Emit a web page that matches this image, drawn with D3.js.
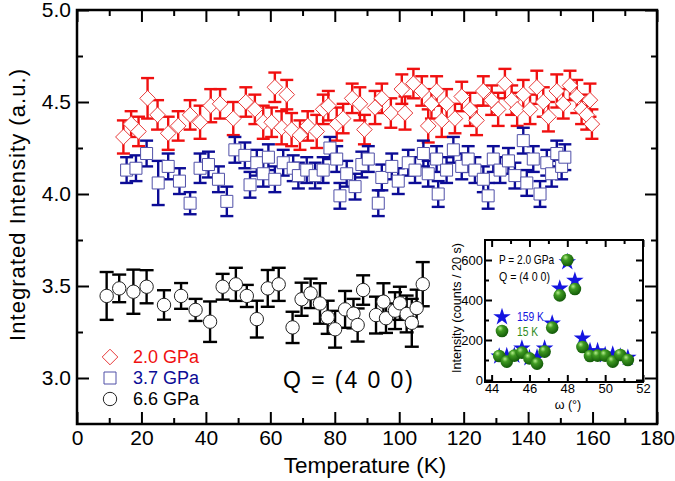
<!DOCTYPE html>
<html>
<head>
<meta charset="utf-8">
<script src="https://cdn.jsdelivr.net/npm/d3@7"></script>
<style>
  body { margin: 0; background: #fff; }
  svg { display: block; font-family: "Liberation Sans", Arial, sans-serif; }
</style>
</head>
<body>
<div class="canvas-container"></div>
<script>
// 2.0 GPa (red diamonds)
const redT = [14.4, 16.8, 19.1, 21.9, 25.0, 28.3, 31.4, 35.1, 38.2, 41.5, 44.4, 48.5, 52.4, 55.2, 57.8,
  60.4, 61.4, 63.5, 65.1, 66.6, 69.2, 71.6, 74.4, 76.4, 78.0, 80.6, 82.6, 85.4, 87.8, 89.2,
  92.5, 94.6, 97.4, 100.8, 101.8, 104.4, 107.0, 109.0, 110.0, 111.6, 113.2, 114.7, 117.3, 119.4,
  122.0, 124.0, 126.1, 128.7, 130.7, 132.8, 134.9, 136.6, 138.5, 140.6, 142.7, 144.7, 146.3,
  148.9, 150.9, 153.0, 155.1, 156.6, 158.2, 159.2, 159.8]
const redI = [4.31, 4.38, 4.34, 4.52, 4.43, 4.33, 4.37, 4.43, 4.39, 4.48, 4.49, 4.41, 4.50, 4.46, 4.39,
  4.39, 4.58, 4.36, 4.54, 4.35, 4.32, 4.37, 4.34, 4.46, 4.48, 4.38, 4.41, 4.52, 4.49, 4.35,
  4.47, 4.52, 4.44, 4.57, 4.44, 4.60, 4.56, 4.37, 4.49, 4.56, 4.40, 4.49, 4.41, 4.53,
  4.46, 4.40, 4.56, 4.51, 4.46, 4.60, 4.51, 4.46, 4.54, 4.46, 4.58, 4.50, 4.42,
  4.56, 4.49, 4.59, 4.53, 4.46, 4.43, 4.51, 4.38]
const redErr = [0.09, 0.07, 0.08, 0.11, 0.08, 0.09, 0.08, 0.08, 0.09, 0.09, 0.08, 0.09, 0.08, 0.08, 0.09,
  0.08, 0.08, 0.09, 0.08, 0.09, 0.08, 0.08, 0.09, 0.08, 0.08, 0.09, 0.08, 0.08, 0.09, 0.08,
  0.09, 0.08, 0.08, 0.08, 0.09, 0.08, 0.08, 0.09, 0.08, 0.08, 0.09, 0.08, 0.08, 0.08,
  0.09, 0.08, 0.08, 0.08, 0.09, 0.08, 0.08, 0.09, 0.08, 0.08, 0.09, 0.08, 0.08,
  0.09, 0.08, 0.08, 0.09, 0.08, 0.08, 0.09, 0.08]

// 3.7 GPa (blue squares)
const blueT = [15.4, 18.3, 21.6, 25.2, 28.3, 31.8, 35.1, 38.2, 40.8, 43.9, 46.5, 49.0, 52.1, 53.7, 55.8,
  57.8, 59.4, 61.4, 64.0, 67.1, 68.7, 71.3, 73.9, 76.4, 78.5, 80.6, 81.6, 83.7, 86.3, 88.4,
  90.4, 93.5, 94.6, 97.7, 99.7, 102.8, 104.9, 107.5, 109.0, 111.6, 112.1, 114.7, 116.8, 119.4,
  121.4, 123.5, 126.1, 127.6, 129.2, 131.3, 133.9, 135.9, 138.5, 139.6, 141.6, 143.7, 145.8,
  147.3, 148.9, 150.4, 151.4]
const blueI = [4.13, 4.14, 4.22, 4.06, 4.15, 4.07, 3.95, 4.14, 4.16, 4.08, 3.96, 4.24, 4.21, 4.05, 4.17,
  4.11, 4.20, 4.08, 4.17, 4.14, 4.10, 4.13, 4.10, 4.13, 4.25, 4.19, 3.99, 4.11, 4.04, 4.16,
  4.19, 3.95, 4.09, 4.15, 4.07, 4.17, 4.13, 4.22, 4.11, 4.19, 4.00, 4.13, 4.24, 4.15,
  4.19, 4.13, 4.08, 3.99, 4.19, 4.13, 4.18, 4.10, 4.29, 4.06, 4.19, 4.00, 4.17,
  4.11, 4.22, 4.15, 4.20]
const blueErr = [0.07, 0.07, 0.07, 0.12, 0.07, 0.07, 0.06, 0.08, 0.07, 0.07, 0.08, 0.07, 0.07, 0.07, 0.07,
  0.07, 0.07, 0.07, 0.07, 0.07, 0.07, 0.07, 0.07, 0.07, 0.06, 0.07, 0.07, 0.07, 0.07, 0.07,
  0.07, 0.07, 0.07, 0.07, 0.07, 0.07, 0.07, 0.07, 0.07, 0.07, 0.07, 0.07, 0.07, 0.07,
  0.07, 0.07, 0.07, 0.07, 0.07, 0.07, 0.07, 0.07, 0.07, 0.07, 0.07, 0.07, 0.07,
  0.07, 0.07, 0.07, 0.07]

// 6.6 GPa (black circles)
const blackT = [9.2, 13.1, 17.5, 21.6, 27.0, 32.3, 36.8, 41.3, 45.2, 49.3, 52.7, 55.8, 59.2, 62.6, 66.9,
  69.7, 72.5, 75.4, 77.8, 80.1, 83.2, 85.8, 87.1, 88.8, 92.8, 95.1, 95.9, 98.7, 100.2, 102.3,
  103.9, 105.4, 107.3]
const blackI = [3.446, 3.487, 3.469, 3.496, 3.397, 3.446, 3.37, 3.306, 3.496, 3.509, 3.446, 3.32, 3.487, 3.509, 3.275,
  3.428, 3.46, 3.405, 3.33, 3.265, 3.373, 3.35, 3.288, 3.478, 3.342, 3.415, 3.325, 3.366, 3.406, 3.348,
  3.30, 3.38, 3.51]
const blackErr = [0.13, 0.075, 0.12, 0.09, 0.08, 0.07, 0.06, 0.11, 0.07, 0.09, 0.06, 0.1, 0.1, 0.09, 0.085,
  0.09, 0.08, 0.11, 0.09, 0.1, 0.1, 0.08, 0.09, 0.08, 0.1, 0.1, 0.08, 0.1, 0.09, 0.1,
  0.13, 0.1, 0.12]

const legendLabels = ["2.0 GPa", "3.7 GPa", "6.6 GPa"]

// inset: omega scans at 2.0 GPa
const omega = [44.4, 44.8, 45.2, 45.6, 46.0, 46.4, 46.8, 47.2, 47.6, 48.0, 48.4, 48.8, 49.2, 49.6, 50.0, 50.4, 50.8, 51.2]
const int15K = [120, 92, 122, 137, 108, 82, 142, 262, 423, 600, 455, 165, 120, 122, 122, 92, 125, 100]
const int159K = [118, 120, 122, 158, 110, 113, 158, 283, 458, 590, 497, 208, 145, 145, 125, 128, 118, 112]

const xTicks = [0, 20, 40, 60, 80, 100, 120, 140, 160, 180]
const yTicks = [3.0, 3.5, 4.0, 4.5, 5.0]
const ixTicks = [44, 46, 48, 50, 52]
const iyTicks = [0, 200, 400, 600]

const w = 675
const h = 481

const svg = d3.select(".canvas-container")
  .append("svg")
  .attr("width", w)
  .attr("height", h)

svg.append("rect").attr("width", w).attr("height", h).attr("fill", "#fff")

const x = d3.scaleLinear().domain([0, 180]).range([77, 657])
const y = d3.scaleLinear().domain([2.75, 5.0]).range([424, 10])

// draws inward ticks on all four sides of a box
const frameAxes = (g, xs, ys, majX, minX, majY, minY, big, small, fs, pad, fmtX, fmtY) => {
  const [x0, x1] = xs.range()
  const [y0, y1] = ys.range()
  const mk = (gen, tr, vals, size, labels, fmt) => {
    const a = g.append("g").attr("transform", tr)
      .call(gen.tickValues(vals).tickSize(size).tickPadding(pad)
        .tickFormat(labels ? fmt : () => ""))
    a.select(".domain").remove()
    a.selectAll("line").attr("stroke", "#000").attr("stroke-width", 2)
    a.selectAll("text").attr("font-size", fs).attr("fill", "#000").attr("font-family", null)
  }
  mk(d3.axisBottom(xs), `translate(0,${y0})`, majX, -big, true, fmtX)
  mk(d3.axisBottom(xs), `translate(0,${y0})`, minX, -small, false)
  mk(d3.axisTop(xs), `translate(0,${y1})`, majX, -big, false)
  mk(d3.axisTop(xs), `translate(0,${y1})`, minX, -small, false)
  mk(d3.axisLeft(ys), `translate(${x0},0)`, majY, -big, true, fmtY)
  mk(d3.axisLeft(ys), `translate(${x0},0)`, minY, -small, false)
  mk(d3.axisRight(ys), `translate(${x1},0)`, majY, -big, false)
  mk(d3.axisRight(ys), `translate(${x1},0)`, minY, -small, false)
}

frameAxes(svg, x, y, xTicks, d3.range(10, 180, 20), yTicks, [3.25, 3.75, 4.25, 4.75],
  12, 6, 21, 6, d3.format("d"), d3.format(".1f"))

svg.append("rect")
  .attr("x", 77).attr("y", 10).attr("width", 580).attr("height", 414)
  .attr("fill", "none").attr("stroke", "#000").attr("stroke-width", 2.5)

// error bar series
const drawSeries = (T, I, E, barColor, capW, marker) => {
  const g = svg.append("g")
  const pts = T.map((t, k) => ({ t, v: I[k], e: E[k] }))
  const bars = g.selectAll(".eb").data(pts).enter().append("g")
    .attr("stroke", barColor).attr("stroke-width", 2.4)
  bars.append("line")
    .attr("x1", (d) => x(d.t)).attr("x2", (d) => x(d.t))
    .attr("y1", (d) => y(d.v - d.e)).attr("y2", (d) => y(d.v + d.e))
  bars.append("line")
    .attr("x1", (d) => x(d.t) - capW / 2).attr("x2", (d) => x(d.t) + capW / 2)
    .attr("y1", (d) => y(d.v + d.e)).attr("y2", (d) => y(d.v + d.e))
  bars.append("line")
    .attr("x1", (d) => x(d.t) - capW / 2).attr("x2", (d) => x(d.t) + capW / 2)
    .attr("y1", (d) => y(d.v - d.e)).attr("y2", (d) => y(d.v - d.e))
  g.selectAll(".mk").data(pts).enter().append("path")
    .attr("transform", (d) => `translate(${x(d.t)},${y(d.v)})`)
    .attr("d", marker.path)
    .attr("fill", "#fff")
    .attr("stroke", marker.color)
    .attr("stroke-width", 1)
}

const diamondPath = "M0,-7.8L7.8,0L0,7.8L-7.8,0Z"
const squarePath = "M-6,-6H6V6H-6Z"
const circlePath = d3.arc()({ innerRadius: 0, outerRadius: 6.7, startAngle: 0, endAngle: 2 * Math.PI })

drawSeries(redT, redI, redErr, "#f01010", 13, { path: diamondPath, color: "#e83a3a" })
drawSeries(blueT, blueI, blueErr, "#0c0c96", 13, { path: squarePath, color: "#5050a8" })
drawSeries(blackT, blackI, blackErr, "#000", 14, { path: circlePath, color: "#222" })

// axis titles
svg.append("text")
  .attr("x", 365).attr("y", 473)
  .attr("text-anchor", "middle").attr("font-size", 22.5)
  .text("Temperature (K)")

svg.append("text")
  .attr("transform", "translate(25,205) rotate(-90)")
  .attr("text-anchor", "middle").attr("font-size", 22)
  .attr("textLength", 272).attr("lengthAdjust", "spacing")
  .text("Integrated Intensity (a.u.)")

// legend
const legendColors = ["#f01010", "#0c0c96", "#000"]
const legendMarks = [
  { path: diamondPath, color: "#e83a3a" },
  { path: squarePath, color: "#5050a8" },
  { path: circlePath, color: "#222" },
]
legendLabels.forEach((lab, k) => {
  const ly = 357 + k * 21
  svg.append("path")
    .attr("transform", `translate(110,${ly})`)
    .attr("d", legendMarks[k].path)
    .attr("fill", "none").attr("stroke", legendMarks[k].color).attr("stroke-width", 1)
  svg.append("text")
    .attr("x", 133).attr("y", ly + 6)
    .attr("font-size", 18).attr("fill", legendColors[k])
    .text(lab)
})

svg.append("text")
  .attr("x", 283).attr("y", 388)
  .attr("font-size", 23)
  .attr("textLength", 130).attr("lengthAdjust", "spacing")
  .text("Q = (4 0 0)")

// ---------- inset ----------
const ix = d3.scaleLinear().domain([43.65, 52]).range([485, 643])
const iy = d3.scaleLinear().domain([-10, 700]).range([382, 240])

const inset = svg.append("g")
inset.append("rect")
  .attr("x", 485).attr("y", 240).attr("width", 158).attr("height", 142)
  .attr("fill", "#fff")

frameAxes(inset, ix, iy, ixTicks, [45, 47, 49, 51], iyTicks, [100, 300, 500],
  7, 4, 13, 2, d3.format("d"), d3.format("d"))

inset.append("rect")
  .attr("x", 485).attr("y", 240).attr("width", 158).attr("height", 142)
  .attr("fill", "none").attr("stroke", "#000").attr("stroke-width", 2)

const defs = svg.append("defs")
const grad = defs.append("radialGradient").attr("id", "ball")
  .attr("cx", "40%").attr("cy", "35%").attr("r", "65%").attr("fx", "35%").attr("fy", "28%")
grad.append("stop").attr("offset", "0%").attr("stop-color", "#b6ef8c")
grad.append("stop").attr("offset", "35%").attr("stop-color", "#3f9a22")
grad.append("stop").attr("offset", "100%").attr("stop-color", "#125a08")

const star = d3.symbol().type(d3.symbolStar).size(95)

inset.selectAll(".st").data(omega).enter().append("path")
  .attr("transform", (d, k) => `translate(${ix(d)},${iy(int159K[k])})`)
  .attr("d", star)
  .attr("fill", "#1414e0")

inset.selectAll(".ball").data(omega).enter().append("circle")
  .attr("cx", (d) => ix(d))
  .attr("cy", (d, k) => iy(int15K[k]))
  .attr("r", 6.3)
  .attr("fill", "url(#ball)")

inset.append("text").attr("x", 499).attr("y", 264).attr("font-size", 13)
  .attr("textLength", 55).attr("lengthAdjust", "spacingAndGlyphs").text("P = 2.0 GPa")
inset.append("text").attr("x", 499).attr("y", 281).attr("font-size", 13)
  .attr("textLength", 51).attr("lengthAdjust", "spacingAndGlyphs").text("Q = (4 0 0)")

inset.append("path")
  .attr("transform", "translate(502,317)")
  .attr("d", star).attr("fill", "#1414e0")
inset.append("text").attr("x", 517).attr("y", 321).attr("font-size", 13)
  .attr("textLength", 27).attr("lengthAdjust", "spacingAndGlyphs")
  .attr("fill", "#1414e0").text("159 K")
inset.append("circle").attr("cx", 502).attr("cy", 331).attr("r", 6.3).attr("fill", "url(#ball)")
inset.append("text").attr("x", 517).attr("y", 336).attr("font-size", 13)
  .attr("textLength", 21).attr("lengthAdjust", "spacingAndGlyphs")
  .attr("fill", "#2e8b1e").text("15 K")

inset.append("text")
  .attr("transform", "translate(461,308) rotate(-90)")
  .attr("text-anchor", "middle").attr("font-size", 12.5)
  .attr("textLength", 130).attr("lengthAdjust", "spacingAndGlyphs")
  .text("Intensity (counts / 20 s)")

inset.append("text")
  .attr("x", 568).attr("y", 409)
  .attr("text-anchor", "middle").attr("font-size", 12.5)
  .text("ω (°)")
</script>
</body>
</html>
